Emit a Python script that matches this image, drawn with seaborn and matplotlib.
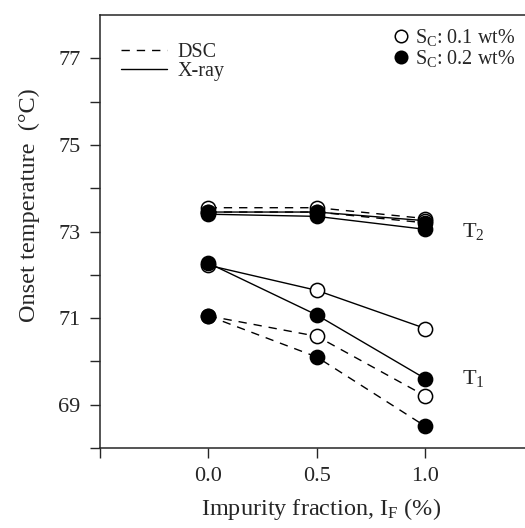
import pandas as pd
import matplotlib
matplotlib.use("Agg")
import matplotlib.pyplot as plt
from matplotlib.lines import Line2D
import seaborn as sns

# impurity fraction (%)
impurity = [0.0, 0.5, 1.0]

# onset temperatures
t2_dsc_01 = [73.55, 73.55, 73.30]
t2_dsc_02 = [73.45, 73.45, 73.20]
t2_xray_01 = [73.45, 73.45, 73.25]
t2_xray_02 = [73.40, 73.35, 73.05]

t1_dsc_01 = [71.05, 70.58, 69.20]
t1_dsc_02 = [71.05, 70.10, 68.50]
t1_xray_01 = [72.22, 71.64, 70.76]
t1_xray_02 = [72.27, 71.07, 69.60]

series = [
    ("T2", "DSC", "0.1", t2_dsc_01),
    ("T2", "DSC", "0.2", t2_dsc_02),
    ("T2", "X-ray", "0.1", t2_xray_01),
    ("T2", "X-ray", "0.2", t2_xray_02),
    ("T1", "DSC", "0.1", t1_dsc_01),
    ("T1", "DSC", "0.2", t1_dsc_02),
    ("T1", "X-ray", "0.1", t1_xray_01),
    ("T1", "X-ray", "0.2", t1_xray_02),
]

rows = []
for trans, method, sc, vals in series:
    for x, y in zip(impurity, vals):
        rows.append({"trans": trans, "method": method, "sc": sc, "x": x, "y": y})
df = pd.DataFrame(rows)

sns.set_style("ticks")
plt.rcParams["font.family"] = ["Liberation Serif", "DejaVu Serif"]
plt.rcParams["mathtext.fontset"] = "custom"
plt.rcParams["mathtext.rm"] = "Liberation Serif"
plt.rcParams["mathtext.it"] = "Liberation Serif:italic"

DASH = (0, (6, 5))

fig = plt.figure(figsize=(5.25, 5.28), dpi=100)
ax = fig.add_axes([0.1905, 0.1515, 0.81, 0.82])

# lines first, then markers on top
for (trans, method, sc), grp in df.groupby(["trans", "method", "sc"]):
    ls = DASH if method == "DSC" else "-"
    sns.lineplot(data=grp, x="x", y="y", ax=ax, color="black", lw=1.0,
                 linestyle=ls, estimator=None, sort=False, zorder=2)
for (trans, method, sc), grp in df.groupby(["trans", "method", "sc"]):
    face = "white" if sc == "0.1" else "black"
    sns.scatterplot(data=grp, x="x", y="y", ax=ax, s=105, marker="o",
                    facecolor=face, edgecolor="black", linewidth=1.1,
                    zorder=3 if sc == "0.1" else 4)

ax.set_xlim(-0.5, 1.46)
ax.set_ylim(68, 78)
ax.set_xticks([-0.5, 0.0, 0.5, 1.0])
ax.set_xticklabels(["", "0.0", "0.5", "1.0"])
ax.set_yticks(range(68, 78))
ax.set_yticklabels(["" if v % 2 == 0 else str(v) for v in range(68, 78)])
ax.tick_params(direction="out", length=7, width=1, labelsize=16, pad=7)

ax.spines["right"].set_visible(False)
for sp in ["left", "bottom", "top"]:
    ax.spines[sp].set_linewidth(1.1)

ax.set_xlabel("Impurity fraction, I$_\\mathrm{F}$ (%)", fontsize=17.5)
ax.set_ylabel("Onset temperature  (°C)", fontsize=17.5)
ax.xaxis.set_label_coords(0.52, -0.112)
ax.yaxis.set_label_coords(-0.14, 0.56)

ax.text(1.17, 73.0, "T$_2$", fontsize=16, va="center")
ax.text(1.17, 69.6, "T$_1$", fontsize=16, va="center")

method_handles = [
    Line2D([], [], color="black", ls=DASH, lw=1.0),
    Line2D([], [], color="black", ls="-", lw=1.0),
]
leg1 = ax.legend(method_handles, ["DSC", "X-ray"], loc="upper left",
                 bbox_to_anchor=(0.03, 0.955), frameon=False, fontsize=14.5,
                 handlelength=2.3, handletextpad=0.5, labelspacing=0.0,
                 borderaxespad=0)
ax.add_artist(leg1)

sc_handles = [
    Line2D([], [], ls="", marker="o", ms=9, mfc="white", mec="black", mew=1.1),
    Line2D([], [], ls="", marker="o", ms=9, mfc="black", mec="black", mew=1.1),
]
ax.legend(sc_handles, ["S$_\\mathrm{C}$: 0.1 wt%", "S$_\\mathrm{C}$: 0.2 wt%"],
          loc="upper right", bbox_to_anchor=(1.0, 0.995), frameon=False,
          fontsize=14.5, handlelength=0.8, handletextpad=0.3,
          labelspacing=0.0, borderaxespad=0.1)

fig.savefig("out.png", dpi=100)
